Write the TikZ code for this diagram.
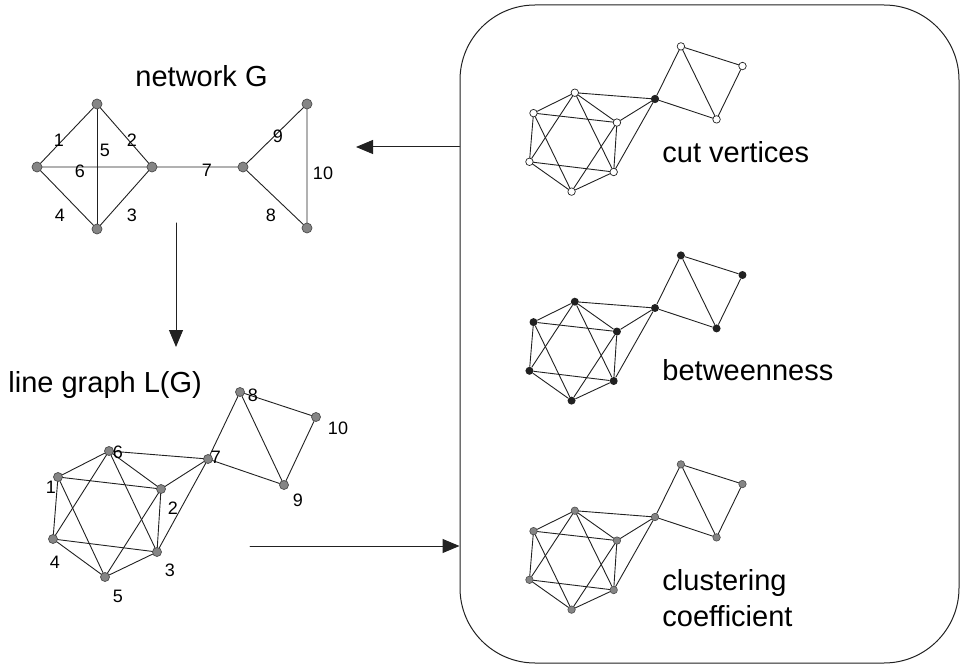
\documentclass[tikz,border=0pt]{standalone}
\usepackage{fontspec}
\setmainfont{Liberation Sans}
\usetikzlibrary{arrows.meta,positioning,calc}
\begin{document}
\begin{tikzpicture}[x=1pt,y=-1pt,line join=round,line cap=round,line width=.9pt]
	\definecolor{nodegray}{rgb}{0.52,0.52,0.52}
	\definecolor{rimgray}{rgb}{0.3,0.3,0.3}
	\definecolor{inkblack}{rgb}{0.13,0.13,0.13}
	\useasboundingbox (0,0) rectangle (961,668);
	
	\tikzset{
		vtx/.style={circle,draw=rimgray,fill=nodegray,line width=.7pt,inner sep=0pt,minimum size=9pt},
		hub/.style={},
		num/.style={font=\fontsize{18}{18}\selectfont,inner sep=0pt},
		title/.style={font=\fontsize{29}{29}\selectfont,inner sep=0pt,anchor=base west},
		arr/.style={-{Triangle[length=17pt,width=14pt]},line width=1pt,draw=inkblack},
		lgraph/.pic={
			% vertices of L(G), relative to vertex 7
			\foreach \n/\x/\y in {1/-150/18,2/-47/30,3/-51/93,4/-155/80,5/-103/118,6/-99/-8,8/32/-67,9/76/26,10/108/-42}
				\node[vtx] (-\n) at (\x,\y) {};
			\node[vtx,hub] (-7) at (0,0) {};
			\foreach \a/\b in {1/6,1/2,1/4,1/5,6/2,6/3,6/4,6/7,2/7,2/3,2/5,3/4,3/5,3/7,4/5,7/8,7/9,8/9,8/10,9/10}
				\draw[inkblack] (-\a) -- (-\b);
		}
	}
	
	%%%%%%%%%% network G
	\node[title] (tG) at (135,87) {network G};
	\begin{scope}[vtx/.append style={minimum size=10pt}]
		\node[vtx] (top) at (97,104) {};
		\node[vtx] (left) at (37,167) {};
		\node[vtx] (hub) at (152,167) {};
		\node[vtx] (bot) at (97,229) {};
		\node[vtx] (cut) at (243,167) {};
		\node[vtx] (tr) at (307,104) {};
		\node[vtx] (br) at (307,228) {};
	\end{scope}
	\draw[inkblack] (left) -- (top) -- (hub) -- (bot) -- (left) -- (hub) -- (cut) -- (tr) -- (br) -- (cut);
	\draw[inkblack] (top) -- (bot);
	\node[num] (e1) at (59,140) {1};
	\node[num] (e2) at (132,140) {2};
	\node[num] (e3) at (132,215) {3};
	\node[num] (e4) at (60,215) {4};
	\node[num] (e5) at (105,150) {5};
	\node[num] (e6) at (80,171) {6};
	\node[num] (e7) at (207,170) {7};
	\node[num] (e8) at (271,215) {8};
	\node[num] (e9) at (278,136) {9};
	\node[num] (e10) at (323,173) {10};
	
	%%%%%%%%%% line graph L(G)
	\node[title] (tL) at (8,392) {line graph L(G)};
	\pic (lg) at (208,459) {lgraph};
	\node[num] (l1) at ($(lg-1)+(-7,10)$) {1};
	\node[num] (l2) at ($(lg-2)+(12,19)$) {2};
	\node[num] (l3) at ($(lg-3)+(13,18)$) {3};
	\node[num] (l4) at ($(lg-4)+(2,23)$) {4};
	\node[num] (l5) at ($(lg-5)+(13,19)$) {5};
	\node[num] (l6) at ($(lg-6)+(9,1)$) {6};
	\node[num] (l7) at ($(lg-7)+(8,-2)$) {7};
	\node[num] (l8) at ($(lg-8)+(13,3)$) {8};
	\node[num] (l9) at ($(lg-9)+(14,15)$) {9};
	\node[num] (l10) at ($(lg-10)+(22,11)$) {10};
	
	%%%%%%%%%% measures
	\node[draw=inkblack,line width=1pt,rounded corners=75pt,minimum width=499pt,minimum height=658pt,inner sep=0pt] (panel) at (709.5,334) {};
	\pic[xscale=.81,yscale=.785,vtx/.style={circle,draw=inkblack,fill=white,line width=.7pt,inner sep=0pt,minimum size=7.5pt},hub/.style={fill=inkblack}] (cv) at (655,99) {lgraph};
	\pic[xscale=.81,yscale=.785,vtx/.style={circle,fill=inkblack,inner sep=0pt,minimum size=8pt}] (bw) at (655,308) {lgraph};
	\pic[xscale=.81,yscale=.785,vtx/.style={circle,draw=rimgray,fill=nodegray,line width=.6pt,inner sep=0pt,minimum size=7.5pt}] (cc) at (655,517) {lgraph};
	\node[title] (tcv) at (662,163) {cut vertices};
	\node[title] (tbw) at (662,380) {betweenness};
	\node[title] (tcc) at (662,590) {clustering};
	\node[title] (tco) at (662,626) {coefficient};
	
	%%%%%%%%%% arrows
	\coordinate (gin) at (356,147);
	\coordinate (dtop) at (176,223);
	\coordinate (dbot) at (176,347);
	\coordinate (rstart) at (250,546);
	\draw[arr] (panel.west |- gin) -- (gin);
	\draw[arr] (dtop) -- (dbot);
	\draw[arr] (rstart) -- (panel.west |- rstart);
\end{tikzpicture}
\end{document}
